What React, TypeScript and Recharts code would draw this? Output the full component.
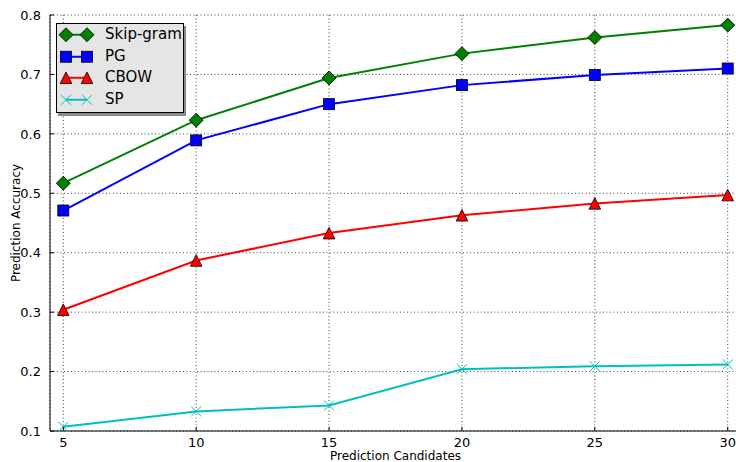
import React from 'react';
import { LineChart, Line, XAxis, YAxis, CartesianGrid, Legend } from 'recharts';

const candidates = [5, 10, 15, 20, 25, 30];
const skipGram = [0.517, 0.623, 0.694, 0.735, 0.762, 0.783];
const pg = [0.471, 0.589, 0.65, 0.682, 0.699, 0.71];
const cbow = [0.304, 0.387, 0.433, 0.463, 0.483, 0.497];
const sp = [0.107, 0.133, 0.143, 0.204, 0.209, 0.212];
const xTicks = [5, 10, 15, 20, 25, 30];
const yTicks = [0.1, 0.2, 0.3, 0.4, 0.5, 0.6, 0.7, 0.8];
const seriesNames = ['Skip-gram', 'PG', 'CBOW', 'SP'];

const data = candidates.map((c, i) => ({
  c,
  skip: skipGram[i],
  pg: pg[i],
  cbow: cbow[i],
  sp: sp[i],
}));

const FONT = "'DejaVu Sans', sans-serif";

type Shape = 'diamond' | 'square' | 'triangle' | 'x';

const series: { key: string; name: string; color: string; shape: Shape }[] = [
  { key: 'skip', name: seriesNames[0], color: '#008000', shape: 'diamond' },
  { key: 'pg', name: seriesNames[1], color: '#0000ff', shape: 'square' },
  { key: 'cbow', name: seriesNames[2], color: '#ff0000', shape: 'triangle' },
  { key: 'sp', name: seriesNames[3], color: '#00bfbf', shape: 'x' },
];

function Marker({ cx, cy, shape, color }: { cx: number; cy: number; shape: Shape; color: string }) {
  if (cx == null || cy == null || isNaN(cx) || isNaN(cy)) return null;
  if (shape === 'diamond') {
    const r = 7;
    return (
      <polygon
        points={`${cx},${cy - r} ${cx + r},${cy} ${cx},${cy + r} ${cx - r},${cy}`}
        fill={color}
        stroke="#000"
        strokeWidth={0.8}
      />
    );
  }
  if (shape === 'square') {
    const h = 5.5;
    return <rect x={cx - h} y={cy - h} width={2 * h} height={2 * h} fill={color} stroke="#000" strokeWidth={0.8} />;
  }
  if (shape === 'triangle') {
    const h = 5.8;
    return (
      <polygon
        points={`${cx},${cy - h} ${cx + h},${cy + h} ${cx - h},${cy + h}`}
        fill={color}
        stroke="#000"
        strokeWidth={0.8}
      />
    );
  }
  const r = 5;
  return (
    <g stroke={color} strokeWidth={1}>
      <line x1={cx - r} y1={cy - r} x2={cx + r} y2={cy + r} />
      <line x1={cx - r} y1={cy + r} x2={cx + r} y2={cy - r} />
    </g>
  );
}

const BottomTick = (props: any) => {
  const { x, y, payload } = props;
  const axisY = y - 6;
  return (
    <g>
      <line x1={x} y1={axisY} x2={x} y2={axisY - 4} stroke="#000" strokeWidth={1} />
      <text x={x} y={axisY + 15.5} textAnchor="middle" fontSize={13} fontFamily={FONT} fill="#000">
        {payload.value}
      </text>
    </g>
  );
};

const TopTick = (props: any) => {
  const { x, y } = props;
  return <line x1={x} y1={y} x2={x} y2={y + 4} stroke="#000" strokeWidth={1} />;
};

const LeftTick = (props: any) => {
  const { x, y, payload } = props;
  const axisX = x + 9;
  return (
    <g>
      <line x1={axisX} y1={y} x2={axisX + 4} y2={y} stroke="#000" strokeWidth={1} />
      <text x={x} y={y} dy="0.36em" textAnchor="end" fontSize={13} fontFamily={FONT} fill="#000">
        {Number(payload.value).toFixed(1)}
      </text>
    </g>
  );
};

const LegendBox = () => (
  <div
    style={{
      width: 128,
      height: 90,
      boxSizing: 'border-box',
      border: '1px solid #000',
      background: '#e5e5e5',
      boxShadow: '2px 3px 0 #8c8c8c',
      fontFamily: FONT,
      fontSize: 15,
      color: '#000',
    }}
  >
    {series.map((s) => (
      <div key={s.key} style={{ display: 'flex', alignItems: 'center', height: 21.5 }}>
        <svg width={48} height={21.5} style={{ display: 'block', flex: 'none' }}>
          <line x1={9} y1={10.75} x2={30} y2={10.75} stroke={s.color} strokeWidth={2} />
          <Marker cx={9} cy={10.75} shape={s.shape} color={s.color} />
          <Marker cx={30} cy={10.75} shape={s.shape} color={s.color} />
        </svg>
        <span style={{ lineHeight: '21.5px', whiteSpace: 'nowrap' }}>{s.name}</span>
      </div>
    ))}
  </div>
);

export default function App() {
  return (
    <div style={{ position: 'absolute', left: 0, top: 0, width: 736, height: 462, overflow: 'hidden', background: '#fff' }}>
      <LineChart width={760} height={462} data={data} margin={{ top: 15, right: 19, bottom: 0, left: 0 }}>
        <CartesianGrid stroke="#444" strokeDasharray="1 2.5" strokeWidth={1} />
        <XAxis
          dataKey="c"
          type="number"
          domain={[4.5, 30.5]}
          ticks={xTicks}
          height={31}
          tickSize={0}
          tickMargin={6}
          tickLine={false}
          axisLine={{ stroke: '#000', strokeWidth: 1 }}
          tick={<BottomTick />}
          interval={0}
          label={(p: any) => {
            const vb = p.viewBox || {};
            return (
              <text
                x={vb.x + vb.width / 2}
                y={459.5}
                textAnchor="middle"
                fontSize={12}
                fontFamily={FONT}
                fill="#000"
              >
                Prediction Candidates
              </text>
            );
          }}
        />
        <XAxis
          xAxisId="top"
          orientation="top"
          type="number"
          domain={[4.5, 30.5]}
          ticks={xTicks}
          height={0}
          tickSize={0}
          tickMargin={0}
          tickLine={false}
          axisLine={{ stroke: '#000', strokeWidth: 1 }}
          tick={<TopTick />}
          interval={0}
        />
        <YAxis
          type="number"
          domain={[0.1, 0.8]}
          ticks={yTicks}
          width={50}
          tickSize={0}
          tickMargin={9}
          tickLine={false}
          axisLine={{ stroke: '#000', strokeWidth: 1 }}
          tick={<LeftTick />}
          interval={0}
          label={(p: any) => {
            const vb = p.viewBox || {};
            const cy = vb.y + vb.height / 2;
            return (
              <text
                x={20}
                y={cy}
                transform={`rotate(-90, 20, ${cy})`}
                textAnchor="middle"
                fontSize={12}
                fontFamily={FONT}
                fill="#000"
              >
                Prediction Accuracy
              </text>
            );
          }}
        />
        <Legend
          layout="horizontal"
          verticalAlign="middle"
          align="center"
          content={() => <LegendBox />}
          wrapperStyle={{ position: 'absolute', top: 23, left: 56, width: 128, height: 90, margin: 0, padding: 0 }}
        />
        {series.map((s) => (
          <Line
            key={s.key}
            dataKey={s.key}
            name={s.name}
            type="linear"
            stroke={s.color}
            strokeWidth={2}
            isAnimationActive={false}
            dot={(p: any) => <Marker key={`${s.key}-${p.index}`} cx={p.cx} cy={p.cy} shape={s.shape} color={s.color} />}
            activeDot={false}
          />
        ))}
      </LineChart>
    </div>
  );
}
